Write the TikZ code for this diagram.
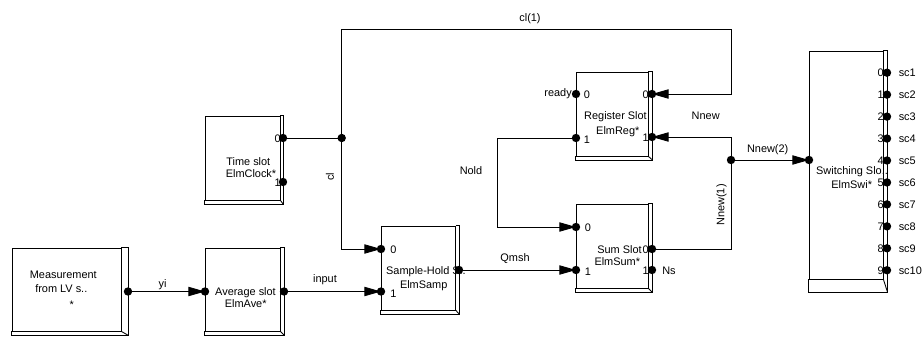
\documentclass[tikz,border=0pt]{standalone}
\usepackage{fontspec}
\setmainfont{Liberation Sans}
\usetikzlibrary{arrows.meta,fit,calc}
\newcommand\bevstrip[3]{%
  \draw[bevel] (#1.north east) -- ([xshift=#2*0.75pt]#1.north east)
    -- ([xshift=#2*0.75pt,yshift=-#3*0.75pt]#1.south east)
    -- ([yshift=-#3*0.75pt]#1.south west) -- (#1.south west);
  \draw[bevel] (#1.south east) -- ([xshift=#2*0.75pt,yshift=-#3*0.75pt]#1.south east);}
\begin{document}
\begin{tikzpicture}[x=0.75pt,y=-0.75pt,
  font=\fontsize{8.2}{9}\selectfont,
  blk/.style={draw,line width=0.65pt,inner sep=0pt},
  bevel/.style={line width=0.65pt},
  port/.style={circle,fill,inner sep=0pt,minimum size=6.3pt},
  wire/.style={line width=0.65pt},
  arr/.style={wire,-{Triangle[length=12.5pt,width=7pt]}},
  txt/.style={inner sep=0pt},
]
\useasboundingbox (0,0) rectangle (924,336);

% blocks
\node[blk,fit={(12,248) (121,331)}] (meas) {};
\bevstrip{meas}{7}{4}
\node[blk,fit={(205,248) (280,331)}] (ave) {};
\bevstrip{ave}{4}{4}
\node[blk,fit={(205,116) (280,200)}] (time) {};
\bevstrip{time}{3}{4}
\node[blk,fit={(381,226) (455.5,310)}] (samp) {};
\bevstrip{samp}{3.5}{4}
\node[blk,fit={(576,72) (648,156)}] (reg) {};
\bevstrip{reg}{4}{3.5}
\node[blk,fit={(576,204) (648,288)}] (sum) {};
\bevstrip{sum}{4}{4}
\node[blk,fit={(809,51) (883,279)}] (swi) {};
\bevstrip{swi}{4}{12.5}

% block texts
\node[txt] (meas-t1) at (63.3,275) {Measurement};
\node[txt] (meas-t2) at (61.3,288.5) {from LV s..};
\node[txt] (meas-t3) at (71.7,305) {*};
\node[txt] (ave-t1) at (245.5,293) {Average slot};
\node[txt] (ave-t2) at (245.7,304) {ElmAve*};
\node[txt] (time-t1) at (248.3,162) {Time slot};
\node[txt] (time-t2) at (251,174) {ElmClock*};
\node[txt] (samp-t1) at (426,271.5) {Sample-Hold S..};
\node[txt] (samp-t2) at (423.7,285.5) {ElmSamp};
\node[txt] (reg-t1) at (615.5,117) {Register Slot};
\node[txt] (reg-t2) at (617.8,131.5) {ElmReg*};
\node[txt] (sum-t1) at (619.5,249.5) {Sum Slot};
\node[txt] (sum-t2) at (617.3,262) {ElmSum*};
\node[txt] (swi-t1) at (852,172) {Switching Slo..};
\node[txt] (swi-t2) at (851.7,184.5) {ElmSwi*};

% port coordinates
\coordinate (meas-o) at (128,291.5);
\coordinate (ave-i) at (205,291.5);
\coordinate (ave-o) at (284,291.5);
\coordinate (time-o0) at (283,138);
\coordinate (time-o1) at (283,182);
\coordinate (samp-i0) at (381,249);
\coordinate (samp-i1) at (381,291.5);
\coordinate (samp-o) at (459,270);
\coordinate (reg-i0) at (576,94);
\coordinate (reg-i1) at (576,138);
\coordinate (reg-o0) at (652,94);
\coordinate (reg-o1) at (652,137);
\coordinate (sum-i0) at (576,227);
\coordinate (sum-i1) at (576,270);
\coordinate (sum-o0) at (652,249);
\coordinate (sum-o1) at (652,270);
\coordinate (swi-i) at (809,160);
\foreach \k in {0,...,9}{\coordinate (swi-o\k) at (887,72.7+21.95*\k);}
\coordinate (j1) at (341.7,138);
\coordinate (j2) at (731,160);
\coordinate (ctop) at (731,29);
\coordinate (cnold) at (497.5,138);

% connectors
\draw[arr] (meas-o) -- (ave-i);
\draw[arr] (ave-o) -- (samp-i1);
\draw[wire] (time-o0) -- (j1);
\draw[wire] (j1) |- (ctop);
\draw[arr] (ctop) |- (reg-o0);
\draw[arr] (j1) |- (samp-i0);
\draw[arr] (reg-i1) -- (cnold) |- (sum-i0);
\draw[arr] (samp-o) -- (sum-i1);
\draw[wire] (sum-o0) -| (j2);
\draw[arr] (j2) |- (reg-o1);
\draw[arr] (j2) -- (swi-i);

% port dots
\foreach \p in {meas-o,ave-i,ave-o,time-o0,time-o1,samp-i0,samp-i1,samp-o,
  reg-i0,reg-i1,reg-o0,reg-o1,sum-i0,sum-i1,sum-o0,sum-o1,swi-i,j1,j2}
  {\node[port] at (\p) {};}
\foreach \k in {0,...,9}{\node[port] at (swi-o\k) {};}

% port numbers
\node[txt,anchor=east] (time-n0) at (281,138.5) {0};
\node[txt,anchor=east] (time-n1) at (281,182.5) {1};
\node[txt,anchor=west] (samp-n0) at (390,249.5) {0};
\node[txt,anchor=west] (samp-n1) at (390,293.5) {1};
\node[txt,anchor=west] (reg-n0) at (583.5,94.5) {0};
\node[txt,anchor=west] (reg-n1) at (583.5,140) {1};
\node[txt,anchor=east] (reg-m0) at (649,94.5) {0};
\node[txt,anchor=east] (reg-m1) at (649,138) {1};
\node[txt,anchor=west] (sum-n0) at (584.5,227.5) {0};
\node[txt,anchor=west] (sum-n1) at (584.5,272) {1};
\node[txt,anchor=east] (sum-m0) at (649,249.5) {0};
\node[txt,anchor=east] (sum-m1) at (649,270.5) {1};
\foreach \k [evaluate=\k as \n using int(\k+1)] in {0,...,9}{
  \node[txt,anchor=east] (swi-n\k) at (884,72.7+21.95*\k) {\k};
  \node[txt,anchor=west] (swi-l\k) at (898.5,72.7+21.95*\k) {sc\n};}

% connector labels
\node[txt,anchor=east] (l-ready) at (572,94) {ready};
\node[txt] (l-yi) at (162.5,284.5) {yi};
\node[txt] (l-input) at (325,279.5) {input};
\node[txt] (l-cl1) at (530,18.5) {cl(1)};
\node[txt,rotate=90] (l-cl) at (330,177) {cl};
\node[txt] (l-nold) at (471,171) {Nold};
\node[txt] (l-qmsh) at (515,259) {Qmsh};
\node[txt] (l-nnew) at (705.7,116) {Nnew};
\node[txt] (l-nnew2) at (767.7,149.5) {Nnew(2)};
\node[txt,rotate=90] (l-nnew1) at (721.5,205) {Nnew(1)};
\node[txt,anchor=west] (l-ns) at (662,270.5) {Ns};
\end{tikzpicture}
\end{document}
